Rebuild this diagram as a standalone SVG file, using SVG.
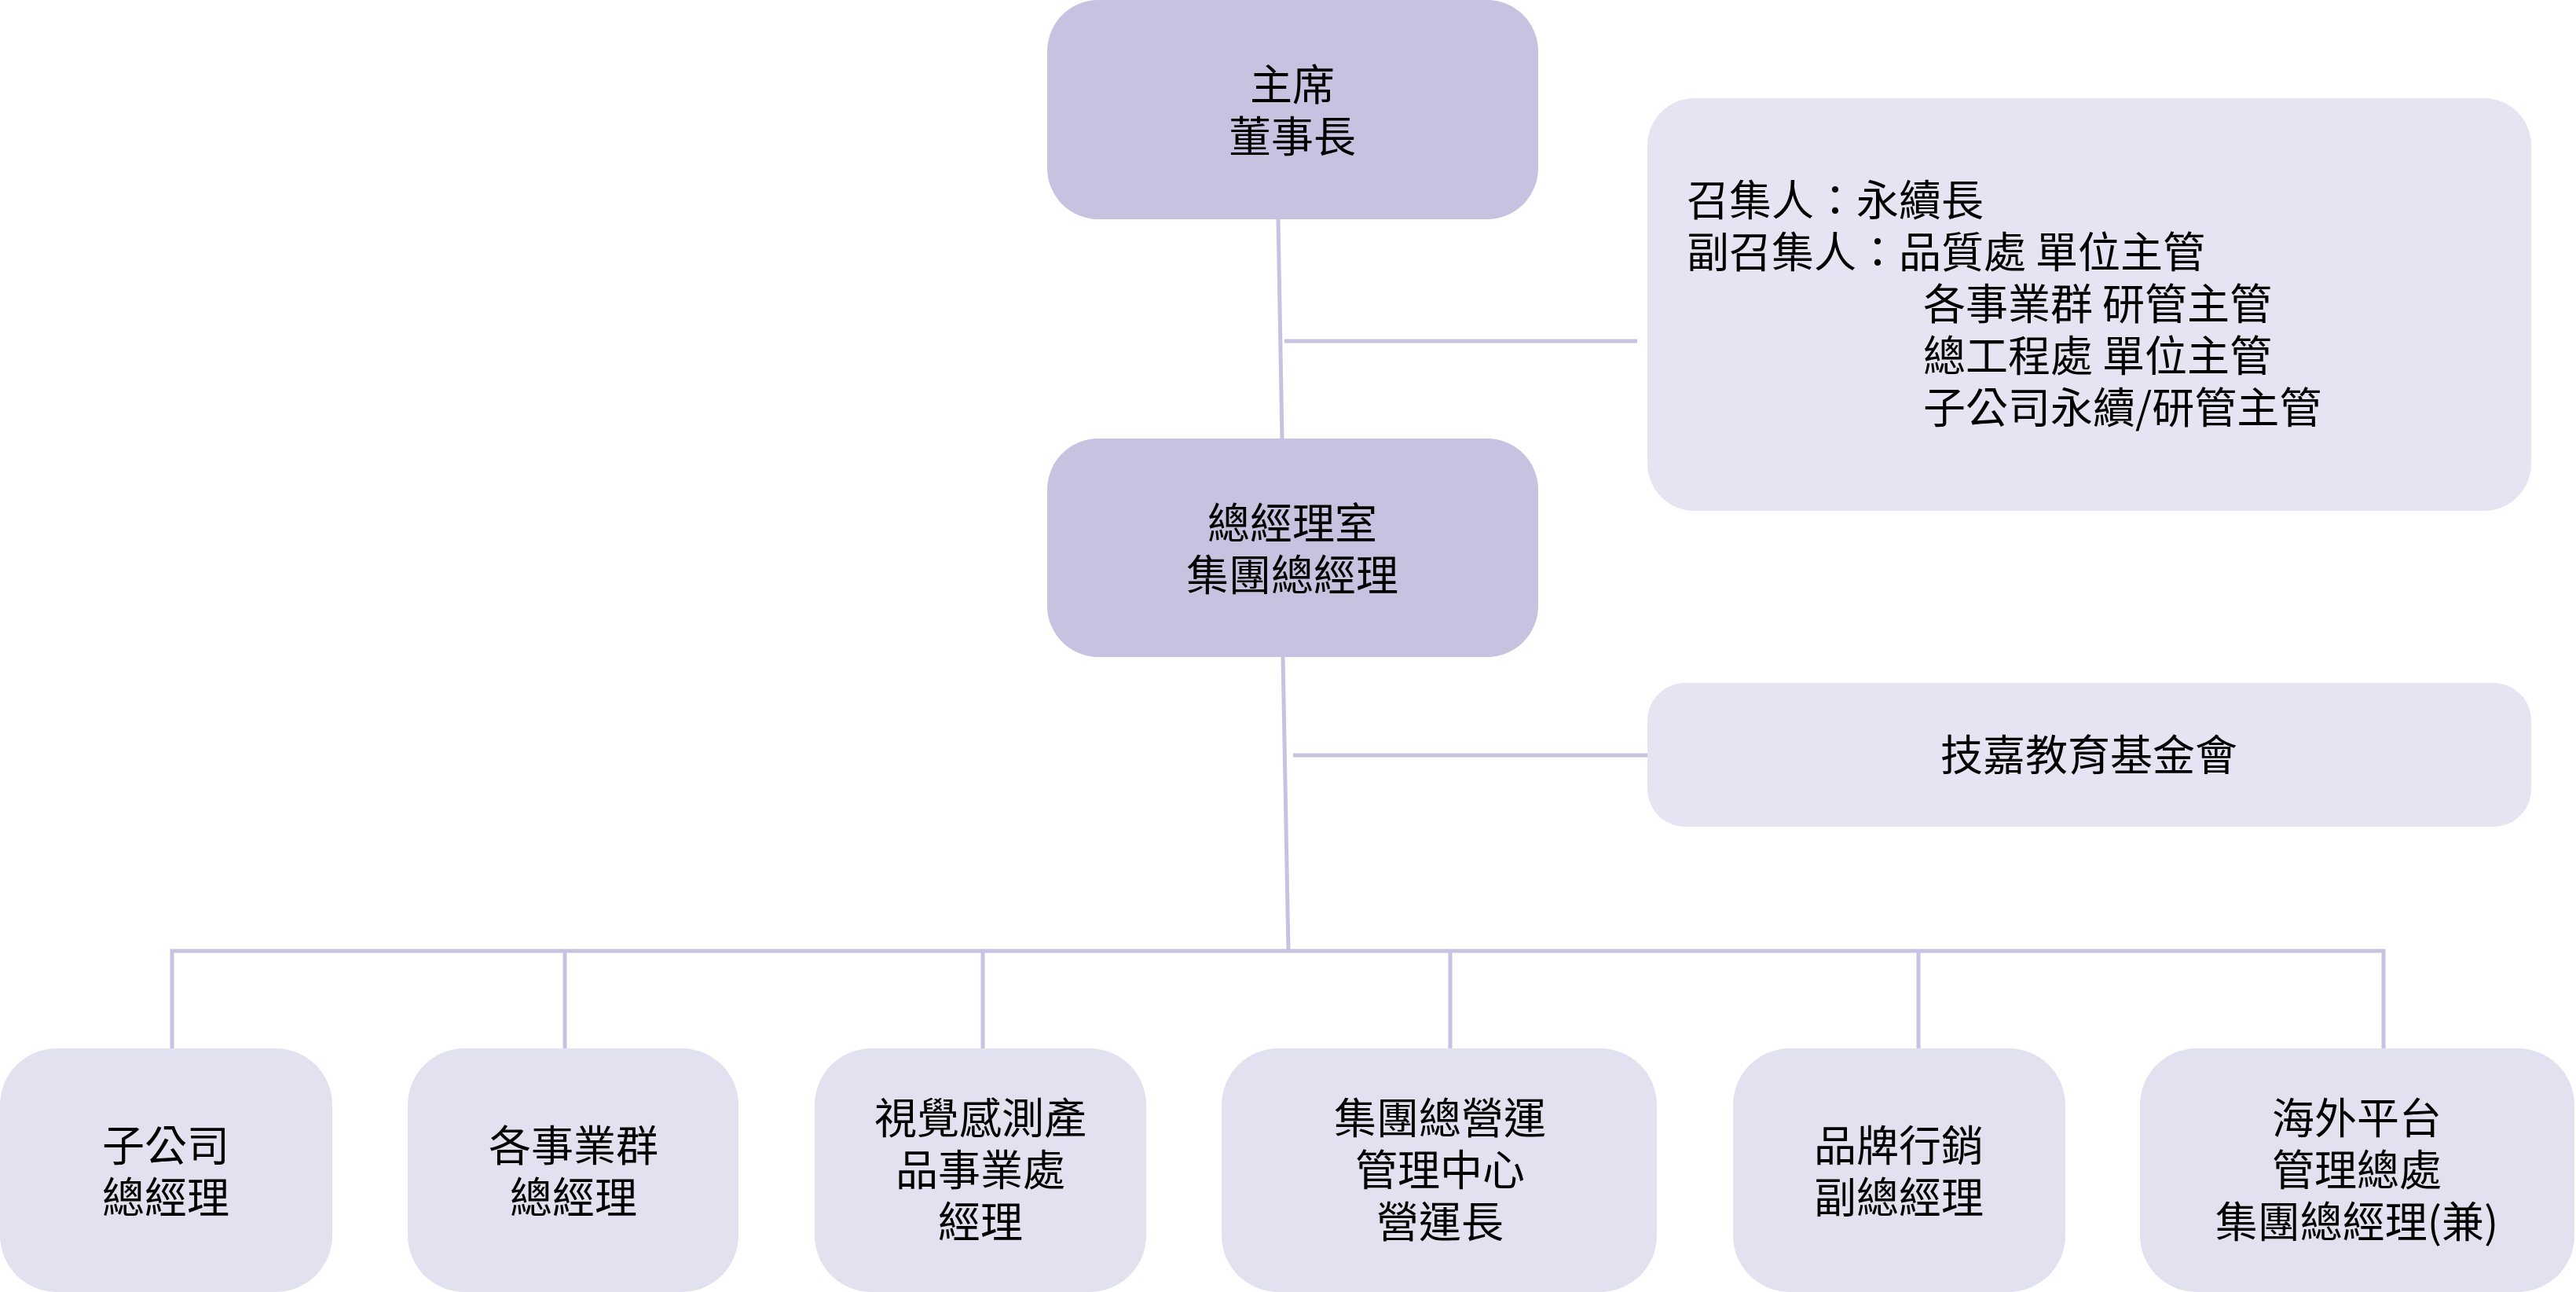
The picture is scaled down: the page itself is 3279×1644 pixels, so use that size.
<svg xmlns="http://www.w3.org/2000/svg" width="3279" height="1644" viewBox="0 0 3279 1644">
<style>
.dark{fill:#C7C2DF}
.light{fill:#E6E4F2}
.lb{fill:#E2E1EF}
.t{font-family:"Noto Sans CJK TC","Noto Sans CJK SC",sans-serif;font-size:54px;fill:#000}
.m{text-anchor:middle}
.c{stroke:#C7C2DF;stroke-width:5;fill:none}
</style>
<rect x="0" y="0" width="3279" height="1644" fill="#FFFFFF"/>
<g id="connectors">
<line class="c" x1="1627" y1="279" x2="1632" y2="558"/>
<line class="c" x1="1635" y1="434" x2="2084" y2="434"/>
<line class="c" x1="1633" y1="836" x2="1640" y2="1210"/>
<line class="c" x1="1646" y1="961" x2="2097" y2="961"/>
<polyline class="c" points="219,1334 219,1210 3034,1210 3034,1334"/>
<line class="c" x1="719" y1="1210" x2="719" y2="1334"/>
<line class="c" x1="1251" y1="1210" x2="1251" y2="1334"/>
<line class="c" x1="1846" y1="1210" x2="1846" y2="1334"/>
<line class="c" x1="2442" y1="1210" x2="2442" y2="1334"/>
</g>
<g id="chairman">
<rect class="dark" x="1333" y="0" width="625" height="279" rx="65"/>
<text class="t m" x="1645"><tspan x="1645" y="128">主席</tspan><tspan x="1645" y="194">董事長</tspan></text>
</g>
<g id="president-office">
<rect class="dark" x="1333" y="558" width="625" height="278" rx="65"/>
<text class="t m"><tspan x="1645" y="686">總經理室</tspan><tspan x="1645" y="752">集團總經理</tspan></text>
</g>
<g id="sustainability-committee">
<rect class="light" x="2097" y="125" width="1125" height="525" rx="60"/>
<text class="t"><tspan x="2147" y="275">召集人：永續長</tspan><tspan x="2147" y="341">副召集人：品質處 單位主管</tspan><tspan x="2448" y="407">各事業群 研管主管</tspan><tspan x="2448" y="473">總工程處 單位主管</tspan><tspan x="2448" y="539">子公司永續/研管主管</tspan></text>
</g>
<g id="foundation">
<rect class="light" x="2097" y="869" width="1125" height="183" rx="48"/>
<text class="t m" x="2659" y="981">技嘉教育基金會</text>
</g>
<g id="subsidiary">
<rect class="lb" x="0" y="1334" width="423" height="310" rx="72"/>
<text class="t m"><tspan x="211" y="1478">子公司</tspan><tspan x="211" y="1544">總經理</tspan></text>
</g>
<g id="business-groups">
<rect class="lb" x="519" y="1334" width="421" height="310" rx="72"/>
<text class="t m"><tspan x="730" y="1478">各事業群</tspan><tspan x="730" y="1544">總經理</tspan></text>
</g>
<g id="vision-sensing">
<rect class="lb" x="1037" y="1334" width="422" height="310" rx="72"/>
<text class="t m"><tspan x="1248" y="1443">視覺感測產</tspan><tspan x="1248" y="1509">品事業處</tspan><tspan x="1248" y="1575">經理</tspan></text>
</g>
<g id="operations-center">
<rect class="lb" x="1555" y="1334" width="554" height="310" rx="72"/>
<text class="t m"><tspan x="1833" y="1443">集團總營運</tspan><tspan x="1833" y="1509">管理中心</tspan><tspan x="1833" y="1575">營運長</tspan></text>
</g>
<g id="brand-marketing">
<rect class="lb" x="2206" y="1334" width="423" height="310" rx="72"/>
<text class="t m"><tspan x="2417" y="1478">品牌行銷</tspan><tspan x="2417" y="1544">副總經理</tspan></text>
</g>
<g id="overseas-platform">
<rect class="lb" x="2724" y="1334" width="553" height="310" rx="72"/>
<text class="t m"><tspan x="3000" y="1443">海外平台</tspan><tspan x="3000" y="1509">管理總處</tspan><tspan x="3000" y="1575">集團總經理(兼)</tspan></text>
</g>
</svg>
